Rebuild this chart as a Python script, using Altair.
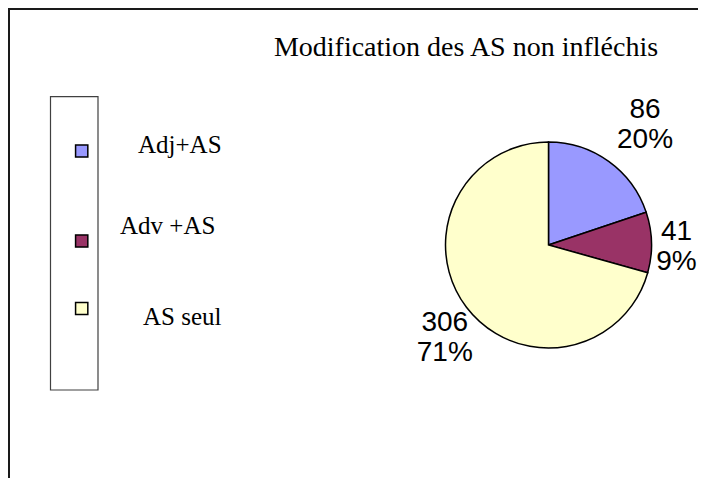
import altair as alt
import pandas as pd

# ---- data ----
categories = ["Adj+AS", "Adv +AS", "AS seul"]
values = [86, 41, 306]
percent_labels = ["20%", "9%", "71%"]
colors = ["#9999FF", "#993366", "#FFFFCC"]
title_text = "Modification des AS non infléchis"

df = pd.DataFrame({
    "cat": categories,
    "value": values,
    "pct": percent_labels,
    "idx": list(range(len(categories))),
})
df["label"] = df["value"].astype(str) + "\n" + df["pct"]

one = pd.DataFrame({"k": [0]})

W, H = 690, 470
CX, CY, R = 540.5, 237, 103

color_scale = alt.Scale(domain=categories, range=colors)

base = alt.Chart(df)

# outer frame (only top and left edges are inside the picture)
frame_top = alt.Chart(one).mark_rule(color="#1a1a1a", strokeWidth=2).encode(
    x=alt.value(0), x2=alt.value(W), y=alt.value(1)
)
frame_left = alt.Chart(one).mark_rule(color="#1a1a1a", strokeWidth=2).encode(
    x=alt.value(1), y=alt.value(0), y2=alt.value(H)
)

# title
title = alt.Chart(one).mark_text(
    font="Liberation Serif", fontSize=28, align="center", baseline="alphabetic", color="black"
).encode(x=alt.value(458), y=alt.value(48), text=alt.value(title_text))

# legend box
legend_box = alt.Chart(one).mark_rect(
    filled=False, stroke="#404040", strokeWidth=1.2
).encode(x=alt.value(42.5), x2=alt.value(90), y=alt.value(88.7), y2=alt.value(382))

legend_squares = base.mark_square(size=150, stroke="black", strokeWidth=1.5, opacity=1).encode(
    x=alt.value(73.7),
    y=alt.Y("idx:Q", scale=alt.Scale(domain=[0, 1, 2], range=[143, 233, 300.5], nice=False, zero=False), axis=None),
    color=alt.Color("cat:N", scale=color_scale, legend=None),
)

legend_labels = base.mark_text(
    font="Liberation Serif", fontSize=25, align="left", baseline="alphabetic", color="black"
).encode(
    x=alt.X("idx:Q", scale=alt.Scale(domain=[0, 1, 2], range=[130, 112, 135], nice=False, zero=False), axis=None),
    y=alt.Y("pos:Q", scale=alt.Scale(domain=[0, 1, 2], range=[145, 226, 317], nice=False, zero=False), axis=None),
    text="cat:N",
).transform_calculate(pos="datum.idx")

# pie
pie = base.mark_arc(radius=R, stroke="black", strokeWidth=1.5).encode(
    theta=alt.Theta("value:Q", stack=True),
    order=alt.Order("idx:Q"),
    color=alt.Color("cat:N", scale=color_scale, legend=None),
    x=alt.value(CX),
    y=alt.value(CY),
)

label_layers = []
label_geo = {  # radius and small offsets of each label block
    "Adj+AS": (155, 6, -9),
    "Adv +AS": (134, -6, -10),
    "AS seul": (139, 7, -6),
}
for cat in categories:
    r, dx, dy = label_geo[cat]
    label_layers.append(
        base.mark_text(
            radius=r, dx=dx, dy=dy, font="Liberation Sans", fontSize=28, lineHeight=30,
            lineBreak="\n", align="center", baseline="middle", color="black",
        ).encode(
            theta=alt.Theta("value:Q", stack=True),
            order=alt.Order("idx:Q"),
            text="label:N",
            x=alt.value(CX),
            y=alt.value(CY),
            opacity=alt.condition(alt.datum.cat == cat, alt.value(1), alt.value(0)),
        )
    )

chart = alt.layer(
    frame_top, frame_left, title, legend_box, legend_squares, legend_labels, pie, *label_layers
).resolve_scale(x="independent", y="independent").properties(
    width=W, height=H, padding=0,
    autosize=alt.AutoSizeParams(type="none"),
    background="white",
).configure_view(stroke="transparent")

chart.save("out.html", embed_options={"renderer": "svg", "actions": False})
